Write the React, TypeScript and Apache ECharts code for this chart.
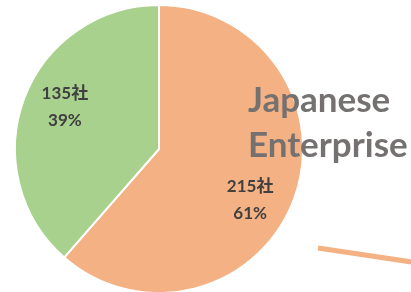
import React, { useEffect, useRef } from "react";
import * as echarts from "echarts";

const categories = ["Japanese Enterprise", "Other"];
const counts = [215, 135];
const colors = ["#F4B183", "#A9D18E"];
const titleLines = ["Japanese", "Enterprise"];
const labelShift = [
  [-10, 12],
  [7, -5],
];

export default function App() {
  const ref = useRef<HTMLDivElement>(null);
  useEffect(() => {
    if (!ref.current) return;
    const chart = echarts.init(ref.current, null, { renderer: "svg" });
    const data = categories.map((name, i) => ({
      name,
      value: counts[i],
      itemStyle: { color: colors[i] },
    }));
    chart.setOption({
      animation: false,
      series: [
        {
          type: "pie",
          center: [159, 149],
          radius: [0, 144],
          startAngle: 90,
          clockwise: true,
          silent: true,
          itemStyle: { borderColor: "#ffffff", borderWidth: 2 },
          label: { show: false },
          labelLine: { show: false },
          data,
        },
        {
          type: "pie",
          center: [159, 149],
          radius: [66, 144],
          startAngle: 90,
          clockwise: true,
          silent: true,
          percentPrecision: 0,
          itemStyle: { color: "transparent", borderWidth: 0 },
          label: {
            show: true,
            position: "inside",
            formatter: "{c}社\n{d}%",
            color: "#404040",
            fontSize: 17,
            fontWeight: "bold",
            lineHeight: 27,
            fontFamily: "Lato, 'Noto Sans CJK JP', sans-serif",
          },
          labelLayout: (p: any) => ({
            dx: labelShift[p.dataIndex][0],
            dy: labelShift[p.dataIndex][1],
          }),
          labelLine: { show: false },
          data: categories.map((name, i) => ({ name, value: counts[i] })),
        },
      ],
      graphic: [
        {
          type: "text",
          left: 248,
          top: 75,
          z: 100,
          silent: true,
          style: {
            text: titleLines.join("\n"),
            fill: "#767171",
            font: "bold 35px Lato, sans-serif",
            lineHeight: 45,
          },
        },
        {
          type: "line",
          z: 100,
          silent: true,
          shape: { x1: 318, y1: 248, x2: 412, y2: 262 },
          style: { stroke: "#F4B183", lineWidth: 5 },
        },
      ],
    });
    return () => chart.dispose();
  }, []);
  return (
    <div
      ref={ref}
      style={{ position: "fixed", left: 0, top: 0, width: 411, height: 292 }}
    />
  );
}
